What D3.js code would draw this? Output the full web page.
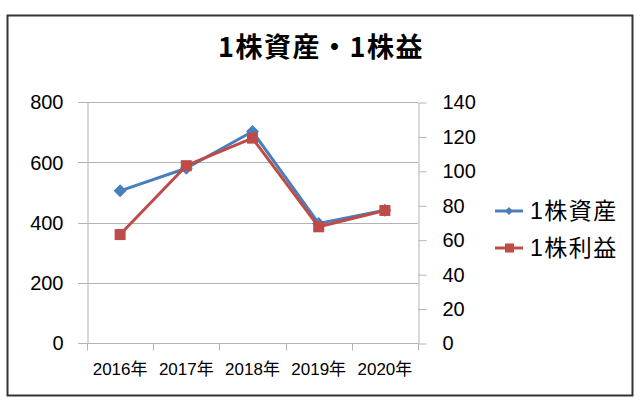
<!DOCTYPE html>
<html>
<head>
<meta charset="utf-8">
<script src="https://cdn.jsdelivr.net/npm/d3@7"></script>
<style>
  html, body { margin: 0; padding: 0; background: #fff; }
  svg { display: block; font-family: "Liberation Sans", "Noto Sans CJK JP", sans-serif; }
</style>
</head>
<body>
<svg id="chart" width="640" height="406"></svg>
<script>
const title = "1株資産・1株益";
const categories = ["2016年", "2017年", "2018年", "2019年", "2020年"];
const seriesNames = ["1株資産", "1株利益"];
const assetValues = [505, 580, 702, 397, 441];
const profitValues = [63, 103, 119, 67.5, 77];
const leftTicks = [0, 200, 400, 600, 800];
const rightTicks = [0, 20, 40, 60, 80, 100, 120, 140];
const colors = ["#4A7EBB", "#BE4B48"];

const svg = d3.select("#chart");

// outer frame
svg.append("rect").attr("x", 7.5).attr("y", 15.5).attr("width", 625).attr("height", 380)
  .attr("fill", "#fff").attr("stroke", "#333").attr("stroke-width", 2);

// title
svg.append("text").attr("x", 321).attr("y", 57).attr("text-anchor", "middle")
  .attr("font-family", "'Noto Sans CJK JP', sans-serif")
  .attr("letter-spacing", 1.5)
  .attr("font-weight", "bold").attr("font-size", 27).attr("fill", "#000").text(title);

const x = d3.scaleBand().domain(categories).range([87, 418]);
const yL = d3.scaleLinear().domain([0, 800]).range([343, 102]);
const yR = d3.scaleLinear().domain([0, 140]).range([343, 102]);

// gridlines
svg.append("g").selectAll("line").data(leftTicks).join("line")
  .attr("x1", 78).attr("x2", 418)
  .attr("y1", d => Math.round(yL(d)) + 0.5).attr("y2", d => Math.round(yL(d)) + 0.5)
  .attr("stroke", "#b3b3b3").attr("stroke-width", 1);

// left axis
const gL = svg.append("g").attr("transform", "translate(87.5,0.5)")
  .call(d3.axisLeft(yL).tickValues(leftTicks).tickSize(0).tickPadding(24).tickFormat(d3.format("d")));
gL.select(".domain").attr("stroke", "#b3b3b3");
gL.selectAll("text").attr("font-size", 20).attr("fill", "#000")
  .attr("font-family", "'Liberation Sans', sans-serif");

// right axis
const gR = svg.append("g").attr("transform", "translate(418.5,0.5)")
  .call(d3.axisRight(yR).tickValues(rightTicks).tickSize(8).tickPadding(16).tickSizeOuter(0).tickFormat(d3.format("d")));
gR.select(".domain").attr("stroke", "#b3b3b3");
gR.selectAll(".tick line").attr("stroke", "#b3b3b3");
gR.selectAll("text").attr("font-size", 20).attr("fill", "#000")
  .attr("font-family", "'Liberation Sans', sans-serif");

// bottom axis
const gB = svg.append("g").attr("transform", "translate(0,343.5)");
gB.append("line").attr("x1", 87).attr("x2", 418).attr("stroke", "#b3b3b3");
const edges = categories.map(c => x(c)).concat([x.range()[1]]);
gB.selectAll("line.t").data(edges).join("line").attr("class", "t")
  .attr("x1", d => Math.round(d) + 0.5).attr("x2", d => Math.round(d) + 0.5)
  .attr("y1", 0).attr("y2", 7).attr("stroke", "#b3b3b3");
gB.selectAll("text").data(categories).join("text")
  .attr("x", d => x(d) + x.bandwidth() / 2).attr("y", 31)
  .attr("text-anchor", "middle").attr("font-size", 17).attr("fill", "#000")
  .attr("font-family", "'Liberation Sans', 'Noto Sans CJK JP', sans-serif")
  .text(d => d);

const cx = d => x(d) + x.bandwidth() / 2;

// series 1 (left axis)
const line1 = d3.line().x((d, i) => cx(categories[i])).y(d => yL(d));
svg.append("path").datum(assetValues).attr("d", line1)
  .attr("fill", "none").attr("stroke", colors[0]).attr("stroke-width", 3).attr("stroke-linejoin", "round");
svg.append("g").selectAll("path").data(assetValues).join("path")
  .attr("transform", (d, i) => `translate(${cx(categories[i])},${yL(d)})`)
  .attr("d", "M0,-6.5L6.5,0L0,6.5L-6.5,0Z").attr("fill", colors[0]);

// series 2 (right axis)
const line2 = d3.line().x((d, i) => cx(categories[i])).y(d => yR(d));
svg.append("path").datum(profitValues).attr("d", line2)
  .attr("fill", "none").attr("stroke", colors[1]).attr("stroke-width", 3).attr("stroke-linejoin", "round");
svg.append("g").selectAll("rect").data(profitValues).join("rect")
  .attr("x", (d, i) => cx(categories[i]) - 5.5).attr("y", d => yR(d) - 5.5)
  .attr("width", 11).attr("height", 11).attr("fill", colors[1]);

// legend
const legend = svg.append("g");
seriesNames.forEach((name, i) => {
  const ly = 211 + i * 37;
  legend.append("line").attr("x1", 495).attr("x2", 523).attr("y1", ly).attr("y2", ly)
    .attr("stroke", colors[i]).attr("stroke-width", 3);
  if (i === 0) {
    legend.append("path").attr("transform", `translate(509,${ly})`)
      .attr("d", "M0,-4L4,0L0,4L-4,0Z").attr("fill", colors[i]);
  } else {
    legend.append("rect").attr("x", 505).attr("y", ly - 4.5).attr("width", 9).attr("height", 9)
      .attr("fill", colors[i]);
  }
  legend.append("text").attr("x", 530).attr("y", ly + 8).attr("font-size", 23)
    .attr("letter-spacing", 1.5)
    .attr("font-family", "'Liberation Sans', 'Noto Sans CJK JP', sans-serif")
    .attr("fill", "#000").text(name);
});
</script>
</body>
</html>
